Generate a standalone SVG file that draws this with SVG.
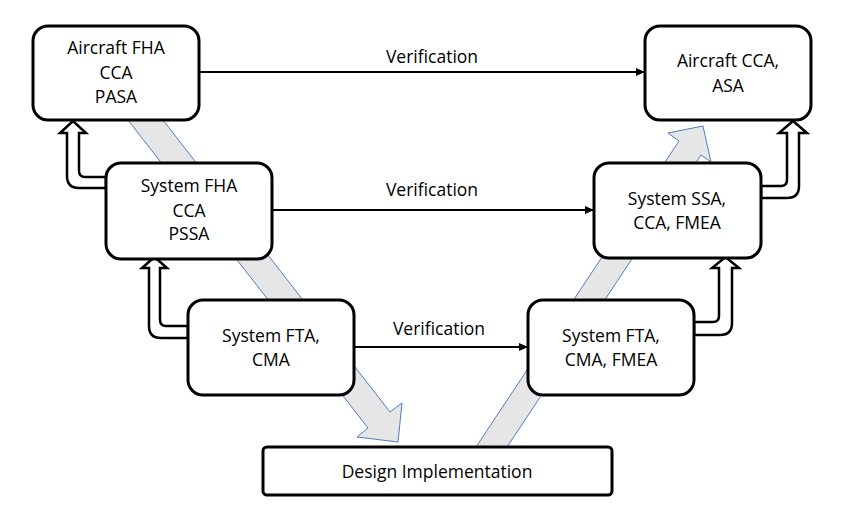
<svg xmlns="http://www.w3.org/2000/svg" width="860" height="512" viewBox="0 0 860 512">
<style>
.bg{fill:#ffffff}
.big{fill:#e6e6e6;stroke:#4f7fb8;stroke-width:1}
.hollow{fill:#ffffff;stroke:#000;stroke-width:2.5;stroke-linejoin:miter}
.box{fill:#ffffff;stroke:#000;stroke-width:3}
.t{font-family:"Open Sans","Liberation Sans",Arial,sans-serif;font-size:17.5px;fill:#000;text-anchor:middle}
.ln{stroke:#000;stroke-width:2;fill:none}
</style>
<defs>
<marker id="ah" markerWidth="10" markerHeight="10" refX="9" refY="5" orient="auto" markerUnits="userSpaceOnUse">
<path d="M0,1 L9,5 L0,9 Z" fill="#000"/>
</marker>
</defs>
<rect class="bg" x="0" y="0" width="860" height="512"/>
<g id="flow-arrows">
<polygon class="big" points="120.2,110 368,428 357,437 398,442 402,403 390,412 155.2,110"/>
<polygon class="big" points="470.7,455 679,141 668,133 703,126 711,162 701,155 501.7,455"/>
</g>
<g id="trace-arrows">
<path class="hollow" d="M106,177 H85 Q79,177 79,171 V133 H86 L73,121 L60,133 H67 V176 Q67,188 79,188 H106 Z"/>
<path class="hollow" d="M188,326 H166 Q160,326 160,320 V268 H167 L154.5,257 L142,268 H149 V326 Q149,338 161,338 H188 Z"/>
<path class="hollow" d="M761,186 H781 Q787,186 787,180 V133 H779 L793,121 L807,133 H799 V186 Q799,198 787,198 H761 Z"/>
<path class="hollow" d="M694,322 H713 Q719,322 719,316 V268 H712 L725.5,257 L739,268 H732 V323 Q732,335 720,335 H694 Z"/>
</g>
<g id="aircraft-fha">
<rect class="box" x="33" y="26" width="166" height="94" rx="15"/>
<text class="t" x="116" y="54">Aircraft FHA</text>
<text class="t" x="116" y="79">CCA</text>
<text class="t" x="116" y="103">PASA</text>
</g>
<g id="aircraft-cca">
<rect class="box" x="645" y="26" width="166" height="94" rx="15"/>
<text class="t" x="728" y="67">Aircraft CCA,</text>
<text class="t" x="728" y="92">ASA</text>
</g>
<g id="system-fha">
<rect class="box" x="106" y="163" width="166" height="96" rx="15"/>
<text class="t" x="189" y="192">System FHA</text>
<text class="t" x="189" y="217">CCA</text>
<text class="t" x="189" y="240">PSSA</text>
</g>
<g id="system-ssa">
<rect class="box" x="594" y="163" width="167" height="95" rx="15"/>
<text class="t" x="677" y="205">System SSA,</text>
<text class="t" x="677" y="229">CCA, FMEA</text>
</g>
<g id="system-fta">
<rect class="box" x="188" y="300" width="166" height="95" rx="15"/>
<text class="t" x="271" y="342">System FTA,</text>
<text class="t" x="271" y="366">CMA</text>
</g>
<g id="system-fta-fmea">
<rect class="box" x="528" y="300" width="166" height="95" rx="15"/>
<text class="t" x="611" y="342">System FTA,</text>
<text class="t" x="611" y="366">CMA, FMEA</text>
</g>
<g id="design-implementation">
<rect class="box" x="263" y="447" width="349" height="48" rx="4"/>
<text class="t" x="437" y="478">Design Implementation</text>
</g>
<g id="connectors">
<line class="ln" x1="199" y1="72" x2="645" y2="72" marker-end="url(#ah)"/>
<text class="t" x="432" y="63">Verification</text>
<line class="ln" x1="272" y1="210" x2="594" y2="210" marker-end="url(#ah)"/>
<text class="t" x="432" y="196">Verification</text>
<line class="ln" x1="354" y1="347" x2="528" y2="347" marker-end="url(#ah)"/>
<text class="t" x="439" y="335">Verification</text>
</g>
</svg>
